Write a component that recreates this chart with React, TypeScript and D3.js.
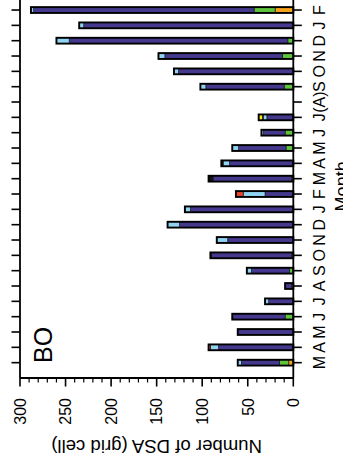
import React from "react";
import * as d3 from "d3";

// Monthly counts of DSA grid cells, split by category (stacked from zero outward)
const months = ["M", "A", "M", "J", "J", "A", "S", "O", "N", "D", "J", "F", "M", "A", "M", "J", "J", "(A)", "S", "O", "N", "D", "J", "F"];
const orange = [5, 0, 0, 0, 0, 0, 0, 0, 0, 0, 0, 0, 0, 0, 0, 0, 0, 0, 0, 0, 0, 0, 0, 20];
const green = [10, 1, 0, 9, 0, 2, 4, 2, 0, 0, 1, 0, 2, 1, 8, 9, 1, 0, 10, 0, 12, 6, 0, 23];
const indigo = [42, 81, 61, 58, 27, 7, 42, 88, 72, 125, 112, 31, 86, 69, 52, 24, 28, 0, 86, 126, 129, 240, 230, 242];
const lightBlue = [4, 9, 0, 0, 4, 0, 5, 0, 12, 13, 6, 24, 0, 7, 7, 2, 4, 0, 6, 5, 7, 14, 5, 3];
const black = [0, 0, 0, 0, 0, 0, 0, 1, 0, 0, 0, 0, 5, 2, 0, 0, 1, 0, 0, 0, 0, 0, 0, 0];
const red = [0, 2, 0, 0, 0, 0, 0, 0, 0, 0, 0, 8, 0, 0, 0, 0, 0, 0, 0, 0, 0, 0, 0, 0];
const yellow = [0, 0, 0, 0, 0, 0, 0, 0, 0, 0, 0, 0, 0, 0, 0, 0, 4, 0, 0, 0, 0, 0, 0, 0];
const valueTicks = [0, 50, 100, 150, 200, 250, 300];

const seriesKeys = ["orange", "green", "indigo", "lightBlue", "black", "red", "yellow"];
const seriesColors: Record<string, string> = {
  orange: "#f7a21b",
  green: "#5ec43b",
  indigo: "#45398e",
  lightBlue: "#90d4f2",
  black: "#111111",
  red: "#e8432d",
  yellow: "#f3ea1a",
};

const rows = months.map((m, i) => ({
  idx: i,
  orange: orange[i],
  green: green[i],
  indigo: indigo[i],
  lightBlue: lightBlue[i],
  black: black[i],
  red: red[i],
  yellow: yellow[i],
}));

const FONT = "'Liberation Sans', Arial, Helvetica, sans-serif";

export default function App() {
  // Chart is laid out upright (472 wide x 343 tall) and turned a quarter turn.
  const x = d3.scaleLinear().domain([-1, 24]).range([94, 477.3]);
  const y = d3.scaleLinear().domain([0, 300]).range([293.3, 20]);
  const stacked = d3.stack<any>().keys(seriesKeys)(rows);
  const totals = rows.map((r) => seriesKeys.reduce((s, k) => s + (r as any)[k], 0));
  const barW = 5.8;
  const minorTicks = d3.range(0, 301, 10).filter((v) => v % 50 !== 0);
  const [x0, x1] = x.range();
  const [yBot, yTop] = y.range();

  return (
    <svg width={343} height={472} style={{ position: "absolute", left: 0, top: 0, background: "#fff" }}>
      <g transform="translate(0,472) rotate(-90)">
        {/* bars */}
        {stacked.map((layer) => (
          <g key={layer.key} fill={seriesColors[layer.key]}>
            {layer.map((d, i) =>
              d[1] > d[0] ? (
                <rect
                  key={i}
                  x={x(i) - barW / 2}
                  width={barW}
                  y={y(d[1])}
                  height={y(d[0]) - y(d[1])}
                  stroke="#1a1a1a"
                  strokeWidth={0.7}
                />
              ) : null
            )}
          </g>
        ))}
        {totals.map((t, i) =>
          t > 0 ? (
            <rect
              key={"o" + i}
              x={x(i) - barW / 2}
              width={barW}
              y={y(t)}
              height={y(0) - y(t)}
              fill="none"
              stroke="#000"
              strokeWidth={1.9}
            />
          ) : null
        )}

        {/* frame */}
        <line x1={x0} x2={x1} y1={yBot} y2={yBot} stroke="#000" strokeWidth={1.8} />
        <line x1={x0} x2={x1} y1={yTop} y2={yTop} stroke="#000" strokeWidth={1.8} />
        <line x1={x0} x2={x0} y1={yTop} y2={yBot} stroke="#000" strokeWidth={1.8} />

        {/* month ticks, bottom and top */}
        {months.map((m, i) => (
          <g key={"mt" + i}>
            <line x1={x(i)} x2={x(i)} y1={yBot} y2={yBot + 8.5} stroke="#000" strokeWidth={1.6} />
            <line x1={x(i)} x2={x(i)} y1={yTop} y2={yTop - 8.5} stroke="#000" strokeWidth={1.6} />
            <text
              x={x(i)}
              y={yBot + 31.8}
              textAnchor="middle"
              fontFamily={FONT}
              fontSize={16}
              fill="#000"
            >
              {m}
            </text>
          </g>
        ))}

        {/* value axis */}
        {valueTicks.map((v) => (
          <g key={"vt" + v}>
            <line x1={x0} x2={x0 - 8.5} y1={y(v)} y2={y(v)} stroke="#000" strokeWidth={1.6} />
            <text
              x={x0 - 20}
              y={y(v)}
              dy="0.36em"
              textAnchor="end"
              fontFamily={FONT}
              fontSize={16}
              fill="#000"
            >
              {v}
            </text>
          </g>
        ))}
        {minorTicks.map((v) => (
          <line key={"mn" + v} x1={x0} x2={x0 - 4.5} y1={y(v)} y2={y(v)} stroke="#000" strokeWidth={1.2} />
        ))}

        {/* axis titles */}
        <text
          transform={`translate(32,${(yTop + yBot) / 2}) rotate(-90)`}
          textAnchor="middle"
          fontFamily={FONT}
          fontSize={18.6}
          fill="#000"
        >
          Number of DSA (grid cell)
        </text>
        <text
          x={(x0 + x1) / 2}
          y={348}
          textAnchor="middle"
          fontFamily={FONT}
          fontSize={18}
          fill="#000"
        >
          Month
        </text>

        {/* region label */}
        <text x={109} y={52} fontFamily={FONT} fontSize={25} fill="#000">
          BO
        </text>
      </g>
    </svg>
  );
}
